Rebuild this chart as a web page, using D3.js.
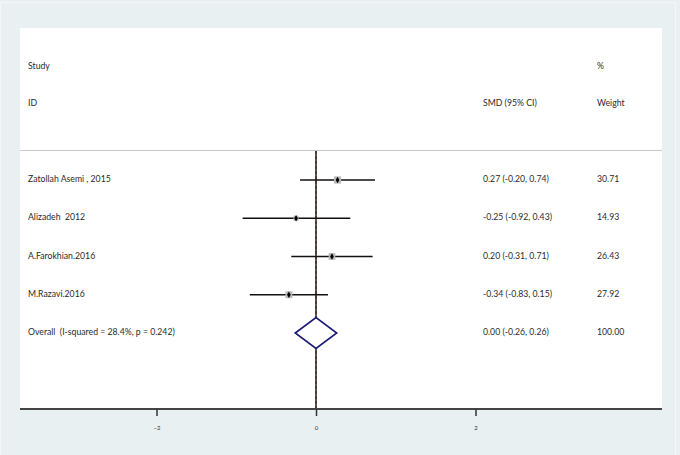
<!DOCTYPE html>
<html><head><meta charset="utf-8">
<script src="https://cdn.jsdelivr.net/npm/d3@7"></script>
<style>html,body{margin:0;padding:0;background:#e9f0f1;}svg{display:block;}text{white-space:pre;}</style>
</head><body>
<script>
const studies = ["Zatollah Asemi , 2015", "Alizadeh  2012", "A.Farokhian.2016", "M.Razavi.2016"];
const smd = [0.27, -0.25, 0.20, -0.34];
const lower = [-0.20, -0.92, -0.31, -0.83];
const upper = [0.74, 0.43, 0.71, 0.15];
const weights = [30.71, 14.93, 26.43, 27.92];
const ciLabels = ["0.27 (-0.20, 0.74)", "-0.25 (-0.92, 0.43)", "0.20 (-0.31, 0.71)", "-0.34 (-0.83, 0.15)"];
const weightLabels = ["30.71", "14.93", "26.43", "27.92"];
const overallLabel = "Overall  (I-squared = 28.4%, p = 0.242)";
const overall = [0.00, -0.26, 0.26];
const overallCI = "0.00 (-0.26, 0.26)";
const overallWeight = "100.00";
const tickValues = [-2, 0, 2];

const W = 680, H = 455;
const svg = d3.select("body").append("svg").attr("width", W).attr("height", H);
const font = "Lato, 'Open Sans', sans-serif";

svg.append("rect").attr("x",0).attr("y",0).attr("width",W).attr("height",H).attr("fill","#e9f0f1");
svg.append("rect").attr("x",0.5).attr("y",2.5).attr("width",675).attr("height",460).attr("fill","none").attr("stroke","#f3f7f8").attr("stroke-width",1);
svg.append("rect").attr("x",20).attr("y",28).attr("width",642).attr("height",381).attr("fill","#ffffff");

const x = d3.scaleLinear().domain([-2, 2]).range([156.5, 475.5]);
const rowY = d3.scalePoint().domain([0,1,2,3,4]).range([180, 333]);

const txt = (s, xx, yy, opts={}) => svg.append("text").attr("x", xx).attr("y", yy)
  .attr("font-family", font).attr("font-size", opts.size || 8.7).attr("fill", opts.fill || "#2a2a2a")
  .attr("xml:space","preserve").attr("dominant-baseline","middle").text(s);
txt("Study", 28, 67);
txt("ID", 28, 104);
txt("%", 597, 67);
txt("SMD (95% CI)", 483, 104);
txt("Weight", 597, 104);
svg.append("line").attr("x1",20).attr("x2",662).attr("y1",150.5).attr("y2",150.5).attr("stroke","#c8c8c8").attr("stroke-width",1.2);

svg.append("line").attr("x1",x(0)).attr("x2",x(0)).attr("y1",151).attr("y2",409).attr("stroke","#111").attr("stroke-width",1.4);
svg.append("line").attr("x1",x(overall[0])).attr("x2",x(overall[0])).attr("y1",151).attr("y2",409).attr("stroke","#4a3020").attr("stroke-width",1.4).attr("stroke-dasharray","3,2");

studies.forEach((s, i) => {
  const y = rowY(i);
  svg.append("line").attr("x1", x(lower[i])).attr("x2", x(upper[i])).attr("y1", y).attr("y2", y).attr("stroke","#111").attr("stroke-width",1.5);
  const side = 1.3 * Math.sqrt(weights[i]);
  svg.append("rect").attr("x", x(smd[i]) - side/2).attr("y", y - side/2).attr("width", side).attr("height", side).attr("fill","#b8b8b8");
  svg.append("path").attr("d", d3.symbol().type(d3.symbolDiamond).size(12)).attr("transform",`translate(${x(smd[i])},${y})`).attr("fill","#000");
  txt(s, 28, y);
  txt(ciLabels[i], 483, y);
  txt(weightLabels[i], 597, y);
});

const yo = rowY(4);
svg.append("path").attr("d", `M${x(overall[1])},${yo} L${x(overall[0])},${yo-15.5} L${x(overall[2])},${yo} L${x(overall[0])},${yo+15.5} Z`)
  .attr("fill","#fff").attr("stroke","#1c1c78").attr("stroke-width",1.6);
txt(overallLabel, 28, yo);
txt(overallCI, 483, yo);
txt(overallWeight, 597, yo);

svg.append("line").attr("x1",20).attr("x2",662).attr("y1",409).attr("y2",409).attr("stroke","#444").attr("stroke-width",2);
const ax = svg.append("g").attr("transform","translate(0,409)")
  .call(d3.axisBottom(x).tickValues(tickValues).tickSize(7).tickPadding(10).tickFormat(d3.format("d")));
ax.select(".domain").remove();
ax.selectAll(".tick line").attr("stroke","#333").attr("stroke-width",1.5);
ax.selectAll(".tick text").attr("font-family",font).attr("font-size",6).attr("fill","#333");
</script>
</body></html>
